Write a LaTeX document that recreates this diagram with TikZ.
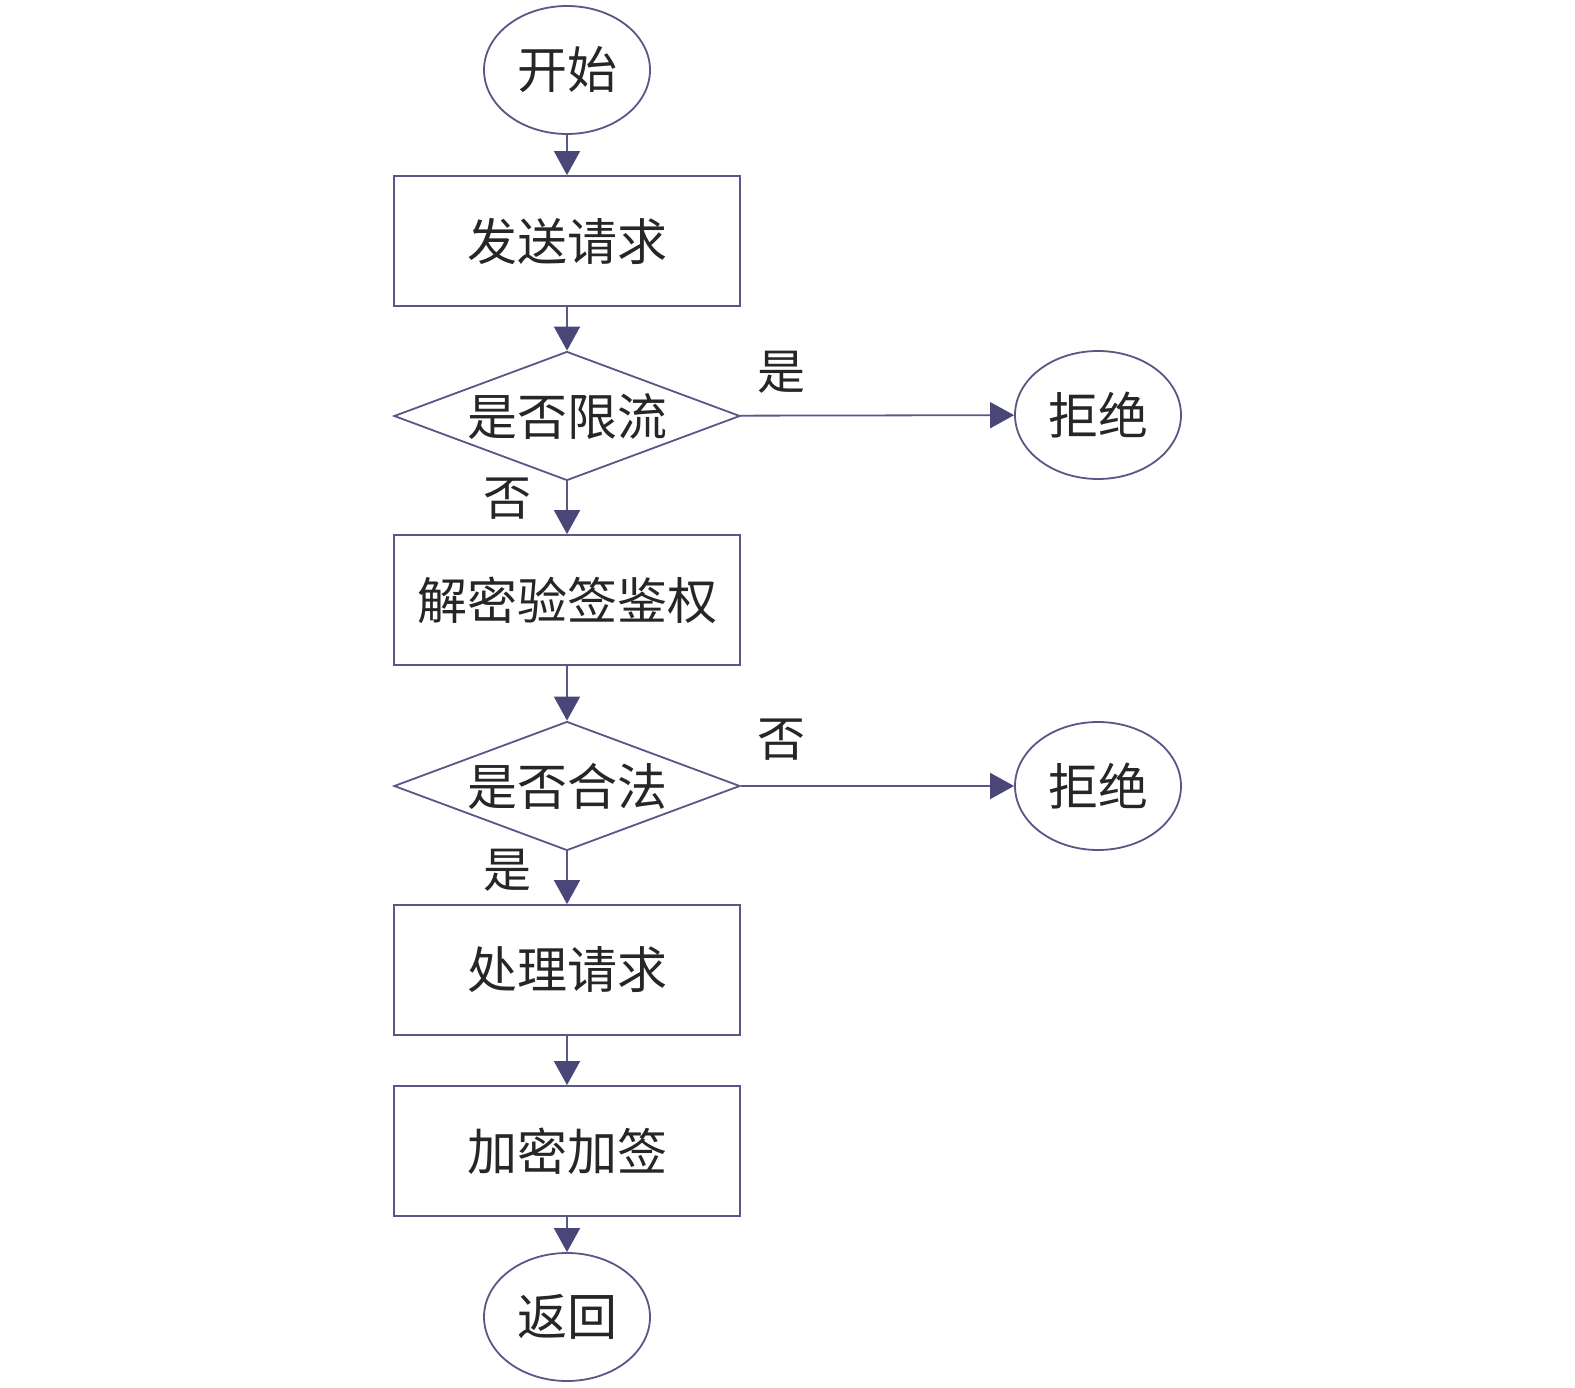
\documentclass[tikz,border=0pt]{standalone}
\usepackage{fontspec}
\newfontfamily\cjk{Noto Sans CJK SC}
\usetikzlibrary{shapes.geometric,arrows.meta}
\definecolor{ln}{HTML}{5A5687}
\definecolor{tip}{HTML}{4A4678}
\newcommand{\dectext}[1]{\raisebox{-0.38em}[0pt][0pt]{\makebox[0pt]{#1}}}
\tikzset{
  base/.style={draw=ln,line width=1.8pt,font=\cjk\fontsize{50}{54}\selectfont,text=black!85,inner sep=0pt},
  term/.style={base,ellipse,minimum width=166pt,minimum height=128pt},
  proc/.style={base,rectangle,minimum width=346pt,minimum height=130pt},
  dec/.style={base,diamond,minimum width=346pt,minimum height=129pt},
  lab/.style={font=\cjk\fontsize{48}{52}\selectfont,text=black!85,inner sep=0pt},
  conn/.style={draw=ln,line width=1.8pt,-{Triangle[width=26pt,length=24pt,color=tip]}}
}
\begin{document}
\begin{tikzpicture}[x=1pt,y=-1pt]
\useasboundingbox[fill=white] (0,0) rectangle (1575,1388);
\node[term] (start) at (567,70) {开始};
\node[proc] (send) at (567,241) {发送请求};
\node[dec] (lim) at (567,416) {\dectext{是否限流}};
\node[term] (rej1) at (1098,415) {拒绝};
\node[proc] (dec1) at (567,600) {解密验签鉴权};
\node[dec] (legal) at (567,786) {\dectext{是否合法}};
\node[term] (rej2) at (1098,786) {拒绝};
\node[proc] (proc) at (567,970) {处理请求};
\node[proc] (enc) at (567,1151) {加密加签};
\node[term] (ret) at (567,1317) {返回};
\draw[conn] (start) -- (send);
\draw[conn] (send) -- (lim);
\draw[conn] (lim) -- (rej1);
\draw[conn] (lim) -- (dec1);
\draw[conn] (dec1) -- (legal);
\draw[conn] (legal) -- (rej2);
\draw[conn] (legal) -- (proc);
\draw[conn] (proc) -- (enc);
\draw[conn] (enc) -- (ret);
\node[lab] (l1) at (781,372) {是};
\node[lab] (l2) at (507,499) {否};
\node[lab] (l3) at (781,740) {否};
\node[lab] (l4) at (507,870) {是};
\end{tikzpicture}
\end{document}
